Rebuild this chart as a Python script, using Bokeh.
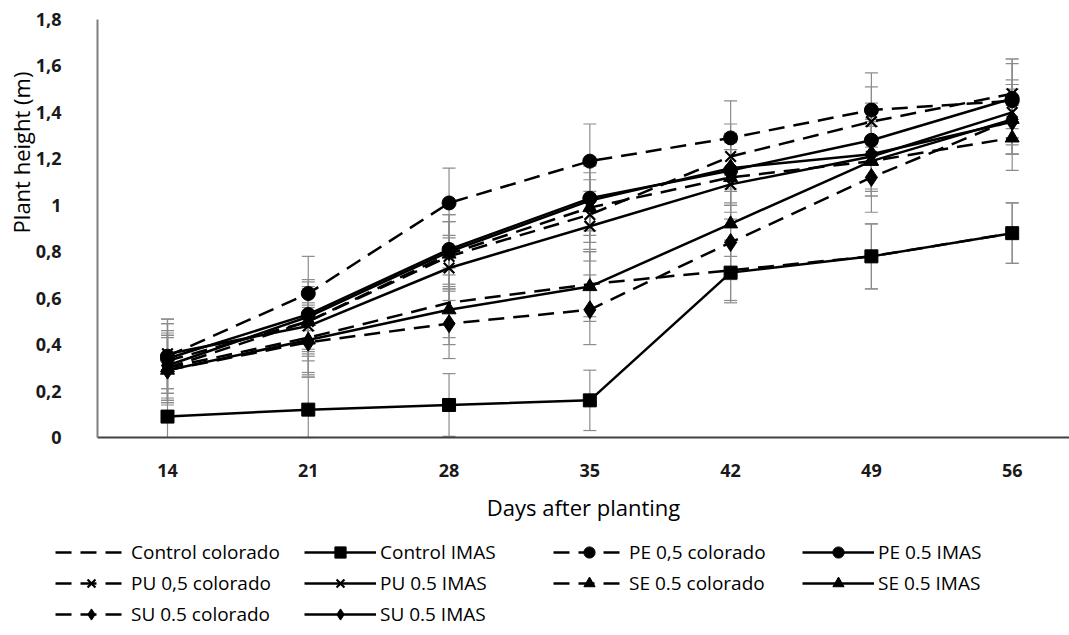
from bokeh.plotting import figure
from bokeh.models import (ColumnDataSource, Whisker, TeeHead, Legend, LegendItem,
                          FixedTicker, Range1d, LinearAxis)
from bokeh.embed import file_html
from bokeh.resources import INLINE

days = [14, 21, 28, 35, 42, 49, 56]
y_ticks = [0, 0.2, 0.4, 0.6, 0.8, 1.0, 1.2, 1.4, 1.6, 1.8]
y_tick_labels = ["0", "0,2", "0,4", "0,6", "0,8", "1", "1,2", "1,4", "1,6", "1,8"]

names = ["Control colorado", "Control IMAS", "PE 0,5 colorado", "PE 0.5 IMAS",
         "PU 0,5 colorado", "PU 0.5 IMAS", "SE 0.5 colorado", "SE 0.5 IMAS",
         "SU 0.5 colorado", "SU 0.5 IMAS"]

control_colorado = [0.30, 0.43, 0.58, 0.66, 0.72, 0.78, 0.88]
control_imas = [0.09, 0.12, 0.14, 0.16, 0.71, 0.78, 0.88]
pe_colorado = [0.35, 0.62, 1.01, 1.19, 1.29, 1.41, 1.45]
pe_imas = [0.34, 0.53, 0.81, 1.03, 1.15, 1.28, 1.46]
pu_colorado = [0.33, 0.50, 0.78, 0.96, 1.21, 1.36, 1.48]
pu_imas = [0.36, 0.48, 0.73, 0.91, 1.09, 1.21, 1.40]
se_colorado = [0.30, 0.50, 0.79, 0.99, 1.12, 1.19, 1.29]
se_imas = [0.29, 0.42, 0.55, 0.65, 0.92, 1.19, 1.37]
su_colorado = [0.29, 0.41, 0.49, 0.55, 0.84, 1.12, 1.37]
su_imas = [0.31, 0.52, 0.80, 1.02, 1.16, 1.22, 1.36]

control_colorado_err = [0.15, 0.15, 0.15, 0.14, 0.13, 0.14, 0.13]
control_imas_err = [0.12, 0.14, 0.135, 0.13, 0.13, 0.14, 0.13]
pe_colorado_err = [0.16, 0.16, 0.15, 0.16, 0.16, 0.16, 0.16]
pe_imas_err = [0.15, 0.15, 0.15, 0.14, 0.15, 0.16, 0.17]
pu_colorado_err = [0.16, 0.14, 0.15, 0.15, 0.14, 0.15, 0.15]
pu_imas_err = [0.15, 0.15, 0.14, 0.15, 0.15, 0.15, 0.14]
se_colorado_err = [0.14, 0.15, 0.14, 0.15, 0.15, 0.15, 0.14]
se_imas_err = [0.14, 0.15, 0.15, 0.15, 0.14, 0.15, 0.15]
su_colorado_err = [0.15, 0.15, 0.15, 0.15, 0.16, 0.15, 0.15]
su_imas_err = [0.15, 0.15, 0.16, 0.15, 0.15, 0.15, 0.14]

values = [control_colorado, control_imas, pe_colorado, pe_imas, pu_colorado,
          pu_imas, se_colorado, se_imas, su_colorado, su_imas]
errors = [control_colorado_err, control_imas_err, pe_colorado_err, pe_imas_err,
          pu_colorado_err, pu_imas_err, se_colorado_err, se_imas_err,
          su_colorado_err, su_imas_err]
markers = [None, "square", "circle", "circle", "x", "x", "triangle", "triangle",
           "diamond", "diamond"]
dashed = [True, False, True, False, True, False, True, False, True, False]

marker_sizes = {"square": 13, "circle": 14, "x": 15, "triangle": 14, "diamond": 18}

FONT = "Open Sans"

# plot area: x 14..56 categories (half-category padding), y 0..1.8
X_LO, X_HI = 10.52, 58.85
Y_LO, Y_HI = 0.0, 1.8
PX_PER_DAY = (1069 - 97) / (X_HI - X_LO)
PX_PER_UNIT = (437 - 19) / (Y_HI - Y_LO)

p = figure(width=1069, height=635, output_backend="svg", toolbar_location=None,
           x_range=Range1d(X_LO - 97 / PX_PER_DAY, X_HI),
           y_range=Range1d(Y_LO - (635 - 437) / PX_PER_UNIT, Y_HI + 19 / PX_PER_UNIT),
           x_axis_location=None, y_axis_location=None,
           min_border_left=0, min_border_right=0, min_border_top=0,
           min_border_bottom=0)
p.outline_line_color = None
p.xgrid.visible = False
p.ygrid.visible = False
p.background_fill_color = "white"

# error bars first
for v, e in zip(values, errors):
    src = ColumnDataSource(dict(x=days,
                                upper=[a + b for a, b in zip(v, e)],
                                lower=[max(a - b, 0) for a, b in zip(v, e)]))
    w = Whisker(source=src, base="x", upper="upper", lower="lower",
                line_color="#8c8c8c", line_width=1.2,
                upper_head=TeeHead(size=13, line_color="#8c8c8c", line_width=1.2),
                lower_head=TeeHead(size=13, line_color="#8c8c8c", line_width=1.2),
                level="underlay")
    p.add_layout(w)

items = []
for name, v, m, d in zip(names, values, markers, dashed):
    src = ColumnDataSource(dict(x=days, y=v))
    rs = []
    ln = p.line("x", "y", source=src, line_color="black", line_width=2.5,
                line_dash="16 9" if d else "solid")
    rs.append(ln)
    if m is not None:
        sc = p.scatter("x", "y", source=src, marker=m, size=marker_sizes[m],
                       fill_color="black", line_color="black",
                       line_width=2.2 if m == "x" else 1)
        rs.append(sc)
    items.append(LegendItem(label=name, renderers=rs))

legend = Legend(items=items, orientation="horizontal", ncols=4,
                glyph_width=72, glyph_height=28, label_standoff=4,
                label_width=170,
                label_text_font=FONT, label_text_font_size="19px",
                label_text_color="black", spacing=3,
                border_line_color=None, background_fill_alpha=0,
                padding=0, margin=0, location=(55, 7))
p.add_layout(legend, "center")

# x axis, fixed at y = 0
xaxis = LinearAxis(fixed_location=0, bounds=(X_LO, X_HI),
                   ticker=FixedTicker(ticks=days),
                   axis_label="Days after planting")
p.add_layout(xaxis, "below")

# y axis with ticks, fixed at left edge of plot area
yaxis = LinearAxis(fixed_location=X_LO, bounds=(Y_LO, Y_HI),
                   ticker=FixedTicker(ticks=y_ticks))
yaxis.major_label_overrides = {t: l for t, l in zip(y_ticks, y_tick_labels)}
p.add_layout(yaxis, "left")

# y axis title holder (title placed higher like the reference)
ytitle = LinearAxis(fixed_location=X_LO, bounds=(0.655, Y_HI),
                    ticker=FixedTicker(ticks=[]), axis_label="Plant height (m)")
ytitle.axis_line_color = None
ytitle.major_label_standoff = 0
p.add_layout(ytitle, "left")

for ax in (xaxis, yaxis, ytitle):
    ax.major_tick_line_color = None
    ax.minor_tick_line_color = None
    ax.major_label_text_font = FONT
    ax.major_label_text_font_size = "18px"
    ax.major_label_text_font_style = "bold"
    ax.major_label_text_color = "#1a1a1a"
    ax.axis_label_text_font = FONT
    ax.axis_label_text_font_size = "22px"
    ax.axis_label_text_font_style = "normal"
    ax.axis_label_text_color = "black"

yaxis.axis_line_color = "#7f7f7f"
yaxis.axis_line_width = 2
xaxis.axis_line_color = "#404040"
xaxis.axis_line_width = 2
yaxis.major_label_standoff = 30
xaxis.major_label_standoff = 20
xaxis.axis_label_standoff = 12
ytitle.axis_label_standoff = 62

open("out.html", "w").write(file_html(p, INLINE))
